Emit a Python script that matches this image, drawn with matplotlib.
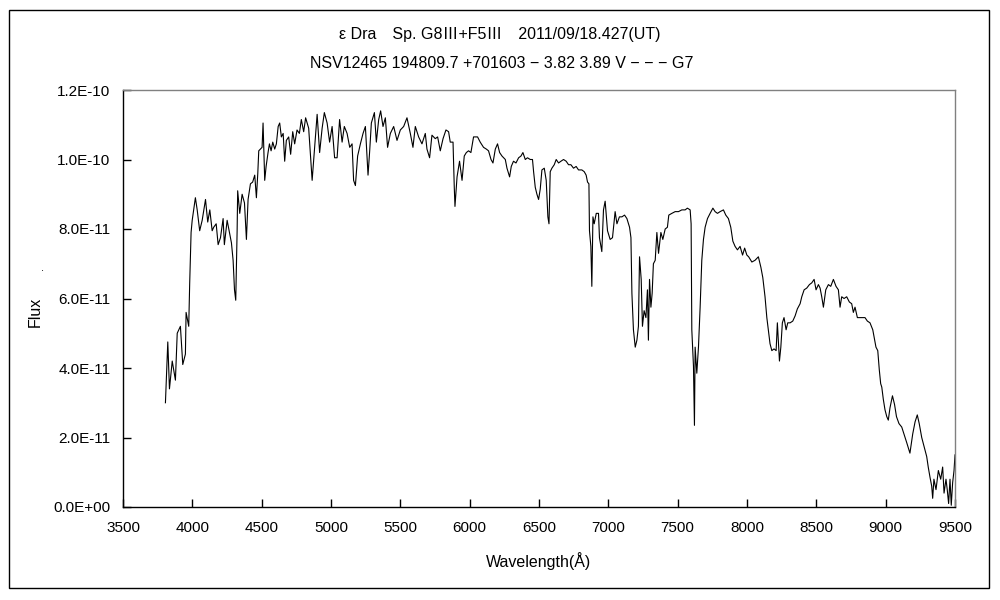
import matplotlib
matplotlib.use("Agg")
import matplotlib.pyplot as plt
from matplotlib.patches import Rectangle

plt.rcParams['font.family'] = ['Liberation Sans', 'Noto Sans CJK JP', 'DejaVu Sans']

title_line1 = "ε Dra　Sp. G8Ⅲ+F5Ⅲ　2011/09/18.427(UT)"
title_line2 = "NSV12465 194809.7 +701603 − 3.82 3.89 V − − − G7"
x_label = "Wavelength(Å)"
y_label = "Flux"

# wavelength in Angstrom
wavelength = [
    3806, 3823, 3835, 3855, 3878, 3891, 3914, 3931, 3950, 3955, 3974, 3981, 3991, 3999,
    4022, 4035, 4053, 4071, 4095, 4111, 4126, 4143, 4154, 4172, 4186, 4203, 4222, 4231,
    4251, 4268, 4282, 4294, 4304, 4313, 4323, 4327, 4342, 4359, 4376, 4390, 4402, 4419,
    4435, 4450, 4462, 4472, 4479, 4491, 4503, 4510, 4522, 4532, 4546, 4556, 4568, 4580,
    4594, 4606, 4619, 4630, 4642, 4655, 4666, 4678, 4695, 4709, 4724, 4738, 4755, 4772,
    4786, 4803, 4817, 4839, 4864, 4880, 4900, 4918, 4936, 4952, 4972, 4990, 5008, 5026,
    5044, 5062, 5080, 5096, 5116, 5135, 5152, 5163, 5176, 5192, 5212, 5231, 5248, 5267,
    5279, 5291, 5313, 5327, 5344, 5358, 5375, 5392, 5408, 5428, 5452, 5476, 5500, 5524,
    5548, 5572, 5591, 5608, 5632, 5656, 5680, 5692, 5711, 5728, 5752, 5769, 5788, 5808,
    5829, 5848, 5860, 5880, 5889, 5894, 5909, 5927, 5945, 5961, 5976, 5992, 6009, 6028,
    6057, 6076, 6100, 6120, 6136, 6154, 6168, 6185, 6201, 6216, 6233, 6257, 6269, 6288,
    6300, 6316, 6334, 6353, 6370, 6384, 6401, 6417, 6437, 6453, 6461, 6473, 6485, 6497,
    6509, 6521, 6538, 6552, 6564, 6572, 6581, 6593, 6610, 6624, 6641, 6658, 6677, 6696,
    6713, 6730, 6749, 6768, 6785, 6809, 6826, 6840, 6850, 6860, 6864, 6874, 6881, 6889,
    6898, 6913, 6929, 6936, 6953, 6965, 6977, 6994, 7013, 7030, 7049, 7062, 7080, 7098,
    7117, 7134, 7153, 7163, 7170, 7181, 7194, 7206, 7217, 7225, 7237, 7246, 7258, 7271,
    7282, 7289, 7297, 7307, 7316, 7325, 7338, 7350, 7362, 7379, 7393, 7410, 7426, 7436,
    7458, 7482, 7506, 7530, 7554, 7570, 7590, 7597, 7602, 7614, 7621, 7626, 7638, 7650,
    7662, 7674, 7686, 7698, 7715, 7734, 7754, 7770, 7787, 7806, 7830, 7847, 7866, 7883,
    7898, 7914, 7931, 7950, 7968, 7983, 7999, 8012, 8035, 8058, 8082, 8100, 8114, 8130,
    8143, 8154, 8166, 8179, 8195, 8210, 8219, 8234, 8244, 8255, 8267, 8282, 8294, 8311,
    8330, 8347, 8363, 8383, 8395, 8412, 8431, 8450, 8467, 8484, 8498, 8515, 8527, 8539,
    8551, 8568, 8587, 8604, 8623, 8642, 8659, 8671, 8683, 8700, 8719, 8738, 8755, 8767,
    8779, 8796, 8815, 8835, 8851, 8868, 8887, 8907, 8916, 8930, 8943, 8954, 8964, 8972,
    8983, 8995, 9008, 9019, 9031, 9049, 9064, 9078, 9096, 9116, 9132, 9152, 9175, 9195,
    9212, 9228, 9242, 9260, 9276, 9296, 9307, 9320, 9332, 9339, 9348, 9363, 9380, 9397,
    9411, 9421, 9435, 9444, 9454, 9464, 9473, 9483, 9493, 9500,
]

# flux in units of 1e-11
flux_e11 = [
    3.0, 4.75, 3.4, 4.2, 3.65, 5.0, 5.2, 4.1, 4.4, 5.6, 5.2, 6.45, 7.9, 8.25,
    8.9, 8.55, 7.95, 8.25, 8.85, 8.2, 8.55, 7.95, 8.05, 8.15, 7.55, 7.75, 8.3, 7.55,
    8.25, 7.9, 7.6, 7.1, 6.25, 5.95, 7.95, 9.1, 8.45, 9.0, 8.75, 7.7, 8.85, 9.3,
    9.35, 9.55, 8.9, 9.6, 10.25, 10.3, 10.35, 11.05, 9.4, 9.8, 10.2, 10.45, 10.25, 10.5,
    10.3, 10.45, 10.95, 11.05, 10.65, 10.75, 9.95, 10.55, 10.65, 10.15, 10.8, 10.45, 10.85, 10.75,
    11.15, 10.8, 11.2, 10.9, 9.4, 10.25, 11.3, 10.2, 10.9, 11.35, 11.05, 10.5, 10.95, 10.05,
    10.05, 11.15, 10.5, 10.95, 10.75, 10.35, 10.45, 9.4, 9.25, 10.1, 10.45, 10.75, 10.95, 9.55,
    10.25, 11.05, 11.35, 10.5, 11.15, 11.4, 10.95, 11.2, 10.35, 10.75, 10.95, 10.55, 10.85, 10.95,
    11.2, 10.75, 10.35, 10.95, 10.65, 10.45, 10.75, 10.3, 10.05, 10.7, 10.6, 10.65, 10.25, 10.6,
    10.85, 10.8, 10.5, 10.5, 9.2, 8.65, 9.5, 9.95, 9.4, 10.1, 10.2, 10.25, 10.2, 10.65,
    10.65, 10.5, 10.35, 10.3, 10.25, 10.0, 9.9, 10.3, 10.45, 10.2, 10.1, 10.0, 9.75, 9.5,
    9.8, 9.95, 9.9, 10.05, 10.1, 10.2, 10.0, 10.05, 10.0, 10.0, 9.65, 9.2, 9.0, 8.85,
    9.15, 9.7, 9.75, 9.4, 8.35, 8.15, 9.65, 9.75, 9.85, 10.0, 9.9, 9.95, 10.0, 9.95,
    9.85, 9.85, 9.75, 9.8, 9.7, 9.7, 9.65, 9.55, 9.35, 9.3, 7.95, 7.5, 6.35, 8.35,
    8.15, 8.45, 8.45, 7.75, 7.35, 8.55, 8.8, 7.95, 7.7, 7.75, 8.5, 8.15, 8.35, 8.35,
    8.4, 8.3, 8.05, 7.75, 6.15, 5.1, 4.6, 4.8, 5.2, 7.2, 6.55, 5.2, 5.65, 5.45,
    6.25, 4.8, 6.55, 5.75, 6.15, 7.0, 7.1, 7.9, 7.3, 7.9, 7.7, 8.0, 8.05, 8.4,
    8.45, 8.5, 8.5, 8.55, 8.55, 8.6, 8.55, 8.15, 5.1, 4.05, 2.35, 4.6, 3.85, 4.6,
    5.75, 7.1, 7.7, 8.05, 8.3, 8.45, 8.6, 8.5, 8.45, 8.5, 8.55, 8.4, 8.3, 8.05,
    7.65, 7.5, 7.4, 7.5, 7.25, 7.45, 7.25, 7.2, 7.05, 7.1, 7.2, 6.9, 6.6, 6.05,
    5.45, 5.1, 4.7, 4.5, 4.55, 4.5, 5.3, 4.2, 4.6, 5.3, 5.45, 5.1, 5.3, 5.3,
    5.35, 5.5, 5.7, 5.85, 6.05, 6.25, 6.3, 6.4, 6.45, 6.55, 6.25, 6.4, 6.3, 6.05,
    5.75, 6.25, 6.4, 6.35, 6.55, 6.35, 6.25, 5.75, 6.05, 6.0, 6.05, 5.9, 5.85, 5.6,
    5.75, 5.45, 5.45, 5.45, 5.45, 5.35, 5.3, 5.1, 4.9, 4.6, 4.5, 3.95, 3.55, 3.45,
    3.1, 2.8, 2.6, 2.5, 2.85, 3.2, 2.95, 2.6, 2.4, 2.3, 2.1, 1.85, 1.55, 2.1,
    2.45, 2.65, 2.4, 2.0, 1.75, 1.45, 1.15, 0.85, 0.6, 0.25, 0.8, 0.5, 1.05, 0.8,
    1.15, 0.4, 0.8, 0.5, 0.1, 0.8, 0.05, 0.7, 1.05, 1.5,
]

x_ticks = [3500, 4000, 4500, 5000, 5500, 6000, 6500, 7000, 7500, 8000, 8500, 9000, 9500]
y_tick_labels = ["0.0E+00", "2.0E-11", "4.0E-11", "6.0E-11", "8.0E-11", "1.0E-10", "1.2E-10"]

flux = [v * 1e-11 for v in flux_e11]
y_ticks = [i * 2e-11 for i in range(len(y_tick_labels))]

fig = plt.figure(figsize=(10, 6), dpi=100)
fig.patch.set_facecolor("white")
ax = fig.add_axes([0.123, 0.155, 0.832, 0.695])

ax.plot(wavelength, flux, color="black", linewidth=0.8)

ax.set_xlim(3500, 9500)
ax.set_ylim(0, 1.2e-10)
ax.set_xticks(x_ticks)
ax.set_xticklabels([str(t) for t in x_ticks])
ax.set_yticks(y_ticks)
ax.set_yticklabels(y_tick_labels)

ax.tick_params(axis="both", direction="in", length=6, width=1, colors="black",
               labelsize=11, top=False, right=False)
ax.tick_params(axis="x", pad=10)
ax.tick_params(axis="y", pad=9)

for side in ("left", "bottom"):
    ax.spines[side].set_color("black")
    ax.spines[side].set_linewidth(1.0)
for side in ("top", "right"):
    ax.spines[side].set_color("#808080")
    ax.spines[side].set_linewidth(1.0)

fig.text(0.5, 1 - 35 / 600, title_line1, ha="center", va="center", fontsize=11.5)
fig.text(0.502, 1 - 63 / 600, title_line2, ha="center", va="center", fontsize=11.5)
fig.text(0.539, 1 - 561 / 600, x_label, ha="center", va="center", fontsize=11.5)
fig.text(0.035, 1 - 312 / 600, y_label, ha="center", va="center", fontsize=11.5, rotation=90)
fig.text(0.042, 1 - 268 / 600, ".", ha="center", va="center", fontsize=8)

fig.add_artist(Rectangle((9 / 1000, 1 - 588 / 600), 980 / 1000, 578 / 600,
                         transform=fig.transFigure, fill=False, edgecolor="black", linewidth=1.0))

fig.savefig("out.png", dpi=100, facecolor="white")
